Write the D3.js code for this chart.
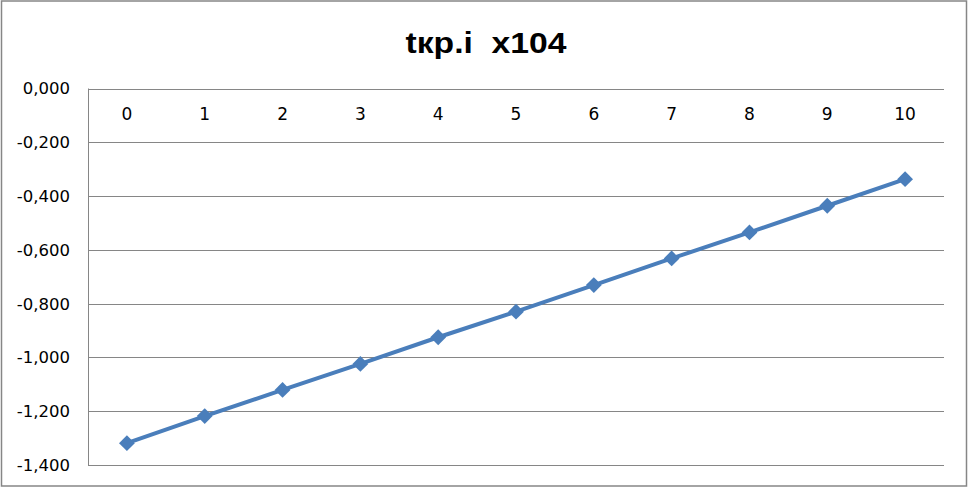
<!DOCTYPE html>
<html><head><meta charset="utf-8">
<script src="https://cdn.jsdelivr.net/npm/d3@7"></script>
<style>body{margin:0;background:#fff}svg{display:block}</style>
</head><body>
<script>
const title = "tкр.i  x104";
const categories = ["0","1","2","3","4","5","6","7","8","9","10"];
const values = [-1.319, -1.218, -1.121, -1.024, -0.925, -0.830, -0.731, -0.632, -0.535, -0.436, -0.337];
const yTicks = [0, -0.2, -0.4, -0.6, -0.8, -1.0, -1.2, -1.4];

(function () {
const W = 969, H = 488;
const svg = d3.select("body").append("svg").attr("width", W).attr("height", H);
svg.append("rect").attr("x", 1.5).attr("y", 1).attr("width", W - 4).attr("height", H - 3)
  .attr("fill", "#fff").attr("stroke", "#868686").attr("stroke-width", 1.5);

const pLeft = 88, pRight = 944, pTop = 88.5, pBottom = 465;
const x = d3.scaleBand().domain(categories).range([pLeft, pRight]);
const y = d3.scaleLinear().domain([-1.4, 0]).range([pBottom, pTop]);
const fmt = v => d3.format(".3f")(v).replace(".", ",").replace("−", "-");

svg.append("text").attr("x", 486).attr("y", 53).attr("text-anchor", "middle")
  .style("white-space", "pre")
  .attr("font-family", "Liberation Sans").attr("font-weight", "bold").attr("font-size", 29)
  .attr("textLength", 161).attr("lengthAdjust", "spacingAndGlyphs").text(title);

// gridlines
svg.append("g").selectAll("line").data(yTicks).join("line")
  .attr("x1", pLeft).attr("x2", pRight)
  .attr("y1", d => Math.round(y(d)) + 0.5).attr("y2", d => Math.round(y(d)) + 0.5)
  .attr("stroke", "#868686").attr("stroke-width", 1);
// value axis line
svg.append("line").attr("x1", pLeft + 0.5).attr("x2", pLeft + 0.5).attr("y1", pTop).attr("y2", pBottom + 0.5)
  .attr("stroke", "#868686");

// y labels
svg.append("g").selectAll("text").data(yTicks).join("text")
  .attr("x", 70).attr("y", d => y(d)).attr("dy", "0.36em").attr("text-anchor", "end")
  .attr("font-family", "DejaVu Sans").attr("font-size", 16.5).attr("fill", "#000")
  .text(d => fmt(d));

// x labels (axis crosses at 0, labels below it)
svg.append("g").selectAll("text").data(categories).join("text")
  .attr("x", d => x(d) + x.bandwidth() / 2).attr("y", 120).attr("text-anchor", "middle")
  .attr("font-family", "DejaVu Sans").attr("font-size", 17).attr("fill", "#000")
  .text(d => d);

const pts = categories.map((c, i) => [x(c) + x.bandwidth() / 2, y(values[i])]);
svg.append("path").attr("d", d3.line()(pts)).attr("fill", "none")
  .attr("stroke", "#4a7ebb").attr("stroke-width", 4).attr("stroke-linejoin", "round");
svg.append("g").selectAll("path").data(pts).join("path")
  .attr("d", d3.symbol(d3.symbolSquare, 125))
  .attr("transform", d => `translate(${d[0]},${d[1]}) rotate(45)`)
  .attr("fill", "#4a7ebb");
})();
</script>
</body></html>
